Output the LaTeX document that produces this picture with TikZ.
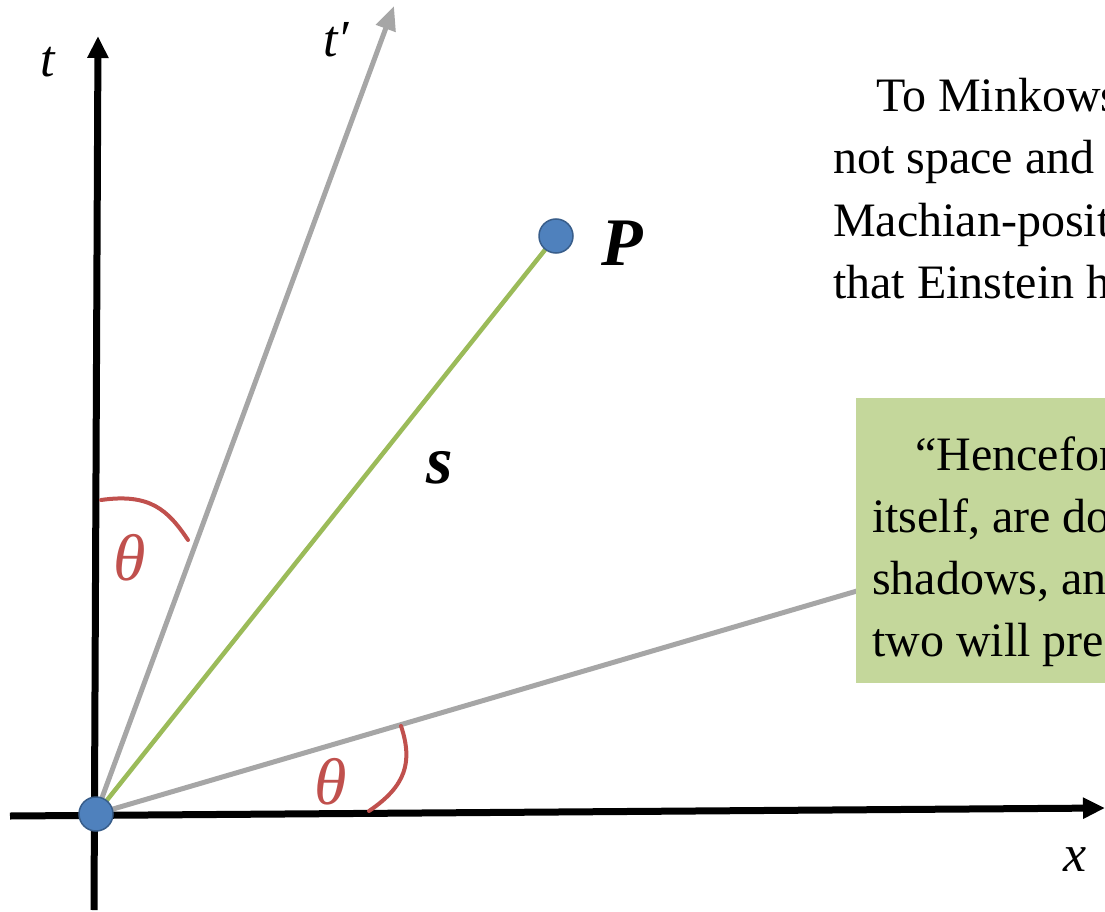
\documentclass[tikz,border=0pt]{standalone}
\usepackage{fontspec}
\setmainfont{Liberation Serif}
\usetikzlibrary{arrows.meta}
\definecolor{axgray}{RGB}{166,166,166}
\definecolor{sgreen}{RGB}{155,187,89}
\definecolor{dotblue}{RGB}{79,129,189}
\definecolor{dotedge}{RGB}{56,93,138}
\definecolor{angred}{RGB}{192,80,77}
\definecolor{boxgreen}{RGB}{196,215,155}
\tikzset{
  axis/.style={line width=7pt,black,-{Triangle[length=22pt,width=20pt]}},
  primeaxis/.style={line width=5pt,axgray},
  interval/.style={line width=4.5pt,sgreen},
  event/.style={circle,fill=dotblue,draw=dotedge,line width=1.5pt,minimum size=34pt,inner sep=0pt},
  anglearc/.style={line width=4pt,angred,line cap=round},
  lbl/.style={font=\fontsize{52}{60}\selectfont\itshape,inner sep=0pt},
  anglbl/.style={font=\fontsize{66}{70}\selectfont\itshape,text=angred,inner sep=0pt},
  boldlbl/.style={font=\fontsize{68}{72}\selectfont\bfseries\itshape,inner sep=0pt},
  prose/.style={font=\fontsize{48}{62}\selectfont,anchor=base west,inner sep=0pt},
}
\begin{document}
\begin{tikzpicture}[x=1pt,y=-1pt]
\useasboundingbox (0,0) rectangle (1105,912);
\clip (0,0) rectangle (1105,912);
% coordinates
\coordinate (o) at (96,814);
\coordinate (p) at (556,236);
\coordinate (tbot) at (94,910);
\coordinate (ttop) at (98,36);
\coordinate (xleft) at (10,816);
\coordinate (xright) at (1105,808);
\coordinate (tptop) at (394,6);
\coordinate (xpend) at (990,552);
% primed axes
\draw[primeaxis,-{Triangle[length=24pt,width=20pt]}] (o) -- (tptop);
\draw[primeaxis] (o) -- (xpend);
% interval
\draw[interval] (o) -- (p);
% axes
\draw[axis] (tbot) -- (ttop);
\draw[axis] (xleft) -- (xright);
% angle arcs
\draw[anglearc] (101,500) .. controls (150,493) and (168,510) .. (188,540);
\draw[anglearc] (401,726) .. controls (413,762) and (406,786) .. (369,811);
% events
\node[event] (O) at (o) {};
\node[event] (P) at (p) {};
% labels
\node[lbl] (tl) at (48,62) {t};
\node[lbl] (tpl) at (336,40) {t′};
\node[lbl] (xl) at (1075,860) {x};
\node[anglbl] (th1) at (130,558) {θ};
\node[anglbl] (th2) at (331,782) {θ};
\node[boldlbl] (Pl) at (622,243) {P};
\node[boldlbl] (sl) at (440,468) {s};
% top prose
\node[prose] (a1) at (876,112) {To Minkowski};
\node[prose] (a2) at (833,174) {not space and};
\node[prose] (a3) at (833,236) {Machian-positivist};
\node[prose] (a4) at (833,298) {that Einstein had};
% quote box
\node[fill=boxgreen,minimum width=300pt,minimum height=285pt,anchor=north west,inner sep=0pt] (box) at (856,398) {};
\node[prose] (b1) at (915,470) {“Henceforth};
\node[prose] (b2) at (872,532) {itself, are doomed};
\node[prose] (b3) at (872,594) {shadows, and};
\node[prose] (b4) at (872,656) {two will preserve};
\end{tikzpicture}
\end{document}
